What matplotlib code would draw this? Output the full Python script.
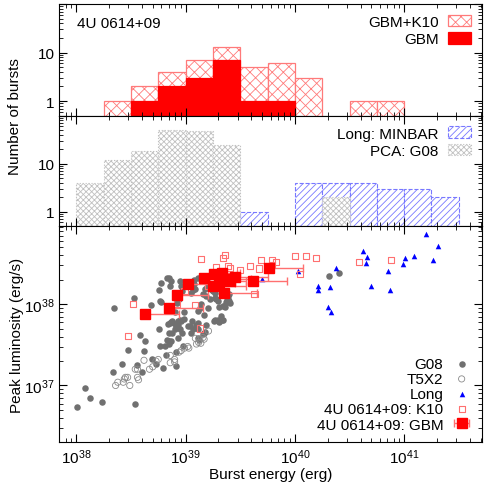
import matplotlib
matplotlib.use("Agg")
import matplotlib.pyplot as plt
import numpy as np

plt.rcParams['font.family'] = ['Liberation Sans', 'DejaVu Sans']
plt.rcParams['font.size'] = 11
plt.rcParams['hatch.linewidth'] = 0.6

# histogram bins: left edges in log10(erg), width 0.25 dex
top_bins = [38.25, 38.5, 38.75, 39.0, 39.25, 39.5, 39.75, 40.0, 40.25, 40.5, 40.75]
gbm_k10_counts = [1, 2, 4, 7, 13, 5, 6, 3, 0, 1, 1]
gbm_counts = [0, 1, 2, 3, 7, 1, 1, 0, 0, 0, 0]

pca_bins = [38.0, 38.25, 38.5, 38.75, 39.0, 39.25, 40.25]
pca_counts = [4, 12, 18, 51, 49, 25, 2]
long_bins = [39.5, 40.0, 40.25, 40.5, 40.75, 41.0, 41.25]
long_counts = [1, 4, 4, 4, 3, 3, 2]
bin_width = 0.25

# scatter data, log10 values: energy (erg), peak luminosity (erg/s)
g08_logE = [38.01, 38.08, 38.13, 38.24, 38.54, 38.34, 38.42, 38.47, 38.56, 38.60,
            38.58, 38.63, 38.62, 38.69, 38.73, 38.79, 38.76, 38.77, 38.81, 38.82,
            38.85, 38.83, 38.85, 38.87, 38.90, 38.85, 38.91, 38.91, 38.93, 38.97,
            38.98, 38.86, 38.88, 38.90, 38.93, 38.95, 38.99, 39.02, 39.05, 39.06,
            39.10, 39.11, 39.12, 39.19, 39.17, 39.26, 39.31, 39.33,
            38.35, 38.53, 38.68, 38.78, 38.76, 38.78, 38.83, 38.85, 38.87, 38.86,
            38.95, 38.96, 38.97, 38.92, 38.94, 38.90, 38.99, 39.08, 39.11, 39.08,
            39.07, 39.09, 39.05, 39.11, 39.13, 39.14, 39.16, 39.18, 39.19, 39.22,
            39.17, 39.21, 39.24, 39.27, 39.28, 39.27, 39.31, 39.32, 39.34, 39.27,
            39.38, 39.39, 39.40, 39.41, 39.37, 39.36, 39.35, 38.96, 38.93, 38.88,
            38.95, 39.04, 39.07, 39.11, 39.16, 39.18, 38.84, 38.87, 39.11, 39.15,
            39.18, 39.20, 39.30, 39.34, 38.77, 38.91, 39.39, 39.40, 39.25, 39.30,
            40.31, 40.40]
g08_logL = [36.74, 36.97, 36.85, 36.80, 36.77, 37.16, 37.27, 37.44, 37.25, 37.16,
            37.62, 37.55, 37.42, 37.33, 37.27, 37.21, 37.69, 37.49, 37.49, 37.37,
            37.64, 37.56, 37.55, 37.55, 37.69, 37.51, 37.41, 37.24, 37.59, 37.65,
            37.49, 37.77, 37.79, 37.76, 37.79, 37.81, 37.82, 37.73, 37.64, 37.79,
            37.75, 37.70, 37.56, 37.74, 37.65, 37.79, 37.78, 37.80,
            37.95, 38.08, 37.99, 38.26, 38.17, 38.03, 38.32, 38.32, 38.29, 38.23,
            38.28, 38.23, 38.16, 38.02, 38.06, 37.90, 37.90, 38.30, 38.32, 38.25,
            38.18, 38.19, 38.14, 37.92, 37.95, 38.00, 38.12, 38.19, 38.10, 38.07,
            37.87, 37.95, 38.18, 38.14, 38.06, 38.08, 37.97, 37.85, 37.81, 37.81,
            38.05, 38.07, 38.04, 38.02, 38.03, 37.96, 37.98, 37.79, 37.75, 37.65,
            37.69, 37.73, 37.69, 37.77, 37.63, 37.66, 37.76, 37.78, 37.59, 38.31,
            38.29, 38.21, 38.04, 37.98, 38.04, 38.09, 38.10, 38.12, 38.16, 37.80,
            38.35, 38.39]

t5x2_logE = [38.36, 38.38, 38.44, 38.43, 38.45, 38.47, 38.49, 38.54, 38.56, 38.56,
             38.57, 38.62, 38.67, 38.70, 38.73, 38.75, 38.86, 38.90, 38.86, 38.90,
             38.94, 38.96, 38.99, 39.02, 39.03, 39.09, 39.10, 39.12, 39.13, 39.14,
             39.16, 39.17, 39.21]
t5x2_logL = [37.00, 37.04, 37.08, 37.04, 37.10, 37.10, 37.00, 37.20, 37.20, 37.10,
             37.07, 37.31, 37.20, 37.23, 37.30, 37.32, 37.37, 37.32, 37.28, 37.29,
             37.41, 37.43, 37.46, 37.48, 37.46, 37.58, 37.51, 37.53, 37.57, 37.52,
             37.59, 37.57, 37.67]

long_logE = [41.20, 41.31, 40.62, 40.66, 40.65, 41.09, 41.01, 40.99, 41.26, 40.85,
             40.87, 40.70, 40.38, 40.32, 40.21, 40.21, 40.03, 39.70, 40.30, 40.33]
long_logL = [38.86, 38.72, 38.65, 38.58, 38.51, 38.59, 38.57, 38.49, 38.54, 38.41,
             38.18, 38.22, 38.45, 38.21, 38.23, 38.18, 38.41, 38.31, 37.97, 37.91]

k10_logE = [38.52, 38.47, 39.14, 39.34, 39.36, 39.28, 39.39, 39.41, 39.50, 39.59,
            39.69, 39.79, 39.83, 40.00, 40.10, 40.19, 40.05, 40.59, 40.88, 39.63,
            39.09, 39.13, 38.99, 39.21, 38.92, 39.67, 39.79]
k10_logL = [38.00, 37.61, 38.56, 38.57, 38.61, 38.46, 38.47, 38.45, 38.42, 38.47,
            38.54, 38.54, 38.52, 38.59, 38.59, 38.57, 38.37, 38.52, 38.54, 38.13,
            37.99, 37.70, 38.16, 38.23, 38.01, 38.44, 38.48]

gbm_logE = [38.63, 38.85, 38.92, 39.02, 39.17, 39.26, 39.33, 39.25, 39.31, 39.37,
            39.41, 39.45, 39.35, 39.62, 39.76]
gbm_logL = [37.88, 37.95, 38.11, 38.25, 38.32, 38.37, 38.38, 38.22, 38.26, 38.31,
            38.28, 38.34, 38.14, 38.28, 38.44]
gbm_logE_hi = [38.94, 39.16, 39.21, 39.22, 39.47, 39.47, 39.50, 39.55, 39.45, 39.60,
               39.55, 39.75, 39.65, 39.93, 40.07]

fig = plt.figure(figsize=(5.0, 4.89), dpi=100)
ax1 = fig.add_axes([0.1186, 0.7614, 0.8444, 0.2284])
ax2 = fig.add_axes([0.1186, 0.5352, 0.8444, 0.2262], sharex=ax1)
ax3 = fig.add_axes([0.1186, 0.0935, 0.8444, 0.4417], sharex=ax1)


def bars(ax, left, counts, **kw):
    left = np.array(left)
    x0 = 10 ** left
    w = 10 ** (left + bin_width) - x0
    return ax.bar(x0, counts, width=w, align='edge', bottom=0.01, **kw)


bk = bars(ax1, top_bins, gbm_k10_counts, facecolor='white', edgecolor='#ff7a7a',
          hatch='xxx', lw=0.9, label='GBM+K10')
bg = bars(ax1, top_bins, gbm_counts, facecolor='#ff0000', edgecolor='#ff0000',
          lw=0.9, label='GBM')
ax1.legend(handles=[bk, bg], loc='upper right', frameon=False, markerfirst=False,
           handlelength=1.5, handleheight=0.8, labelspacing=0.2,
           borderaxespad=0.3, handletextpad=0.6)
ax1.text(0.041, 0.83, '4U 0614+09', transform=ax1.transAxes, va='center')

bl = bars(ax2, long_bins, long_counts, facecolor='white', edgecolor='#7878ff',
          hatch='/////', lw=0.8, linestyle='--', label='Long: MINBAR')
bp = bars(ax2, pca_bins, pca_counts, facecolor='white', edgecolor='#c0c0c0',
          hatch='xxxxxx', lw=0.8, linestyle=':', label='PCA: G08')
ax2.legend(handles=[bl, bp], loc='upper right', frameon=False, markerfirst=False,
           handlelength=1.5, handleheight=0.8, labelspacing=0.2,
           borderaxespad=0.3, handletextpad=0.6)

for ax in (ax1, ax2):
    ax.set_yscale('log')
    ax.set_ylim(0.5, 100)
    ax.set_yticks([1, 10, 100])
    ax.set_yticklabels(['1', '10', ''])

ax3.scatter(10 ** np.array(g08_logE), 10 ** np.array(g08_logL), s=22,
            color='#707070', lw=0, label='G08', zorder=2)
ax3.scatter(10 ** np.array(t5x2_logE), 10 ** np.array(t5x2_logL), s=20,
            facecolor='none', edgecolor='#8a8a8a', lw=0.6, label='T5X2', zorder=2)
ax3.scatter(10 ** np.array(long_logE), 10 ** np.array(long_logL), s=16, marker='^',
            color='#0000ff', lw=0, label='Long', zorder=3)
ax3.scatter(10 ** np.array(k10_logE), 10 ** np.array(k10_logL), s=20, marker='s',
            facecolor='none', edgecolor='#ff7070', lw=0.8,
            label='4U 0614+09: K10', zorder=3)
ge = 10 ** np.array(gbm_logE)
ghi = 10 ** np.array(gbm_logE_hi)
ax3.errorbar(ge, 10 ** np.array(gbm_logL), xerr=[np.zeros_like(ge), ghi - ge],
             fmt='s', ms=7.5, color='#ff0000', ecolor='#ff7070', elinewidth=1,
             capsize=3, capthick=1, label='4U 0614+09: GBM', zorder=4)
ax3.legend(loc='lower right', frameon=False, markerfirst=False, labelspacing=0.08,
           handlelength=1.2, handletextpad=0.6, borderaxespad=0.3)

ax3.set_xscale('log')
ax3.set_yscale('log')
ax3.set_xlim(7e37, 5.1e41)
ax3.set_ylim(2e36, 9.1e38)
ax3.set_xlabel('Burst energy (erg)', labelpad=1)
ax3.set_ylabel('Peak luminosity (erg/s)', labelpad=0)
fig.text(0.03, 1 - 116.7 / 489, 'Number of bursts', rotation=90, ha='center', va='center')

for ax in (ax1, ax2, ax3):
    ax.tick_params(which='both', direction='in', top=True, right=True)
    ax.tick_params(which='major', length=6)
    ax.tick_params(which='minor', length=3)
ax1.tick_params(labelbottom=False)
ax2.tick_params(labelbottom=False)

fig.savefig('out.png', dpi=100)
